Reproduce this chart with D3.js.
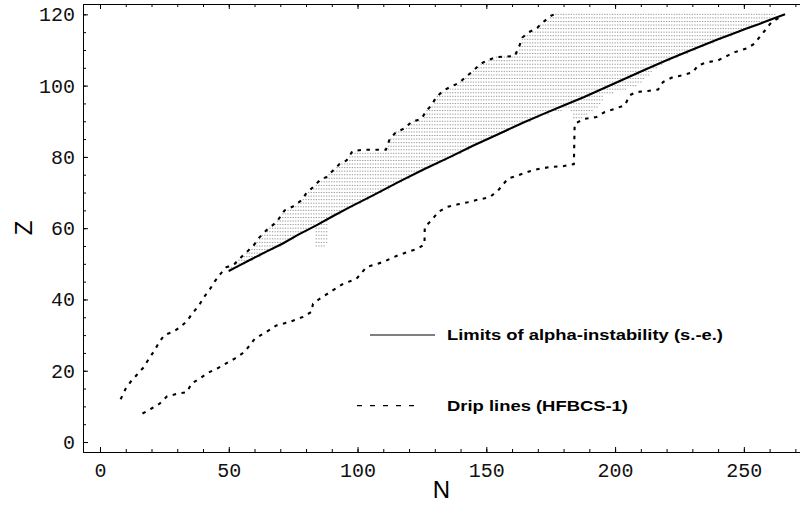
<!DOCTYPE html>
<html>
<head>
<meta charset="utf-8">
<script src="https://cdn.jsdelivr.net/npm/d3@7"></script>
<style>
  html, body { margin: 0; padding: 0; background: #fff; }
  svg { display: block; }
</style>
</head>
<body>
<div id="chart"></div>
<script>
// proton drip line (upper dashed), [N, Z]
const protonDrip = [
  [8,12],[10,15],[12,17],[14.5,19],[17,21],[19,23.4],[21,25.5],[23,28],[25,30],
  [28.6,31],[31.3,32.3],[33.8,34],[36,36.2],[38.5,38.4],[40.4,40.7],[42.6,42.8],
  [44.5,45],[46.8,47.2],[49,49],[52.3,50],[55,52],[57.7,53.8],[60,55.5],[62,57.5],
  [64.6,59.4],[68.5,61.7],[71.7,65],[74.7,66],[78.2,67.8],[80,69.7],[82.7,71.5],
  [85.3,73.4],[88,74.4],[90.5,76.2],[93,78],[95.7,79],[98,81.6],[102,82],[111,82],
  [112.5,85],[115,87],[118.3,88],[120.9,89.8],[124.8,90.7],[126.8,93],[128.7,94.5],
  [130.6,96.8],[133.5,98.7],[136.5,99.8],[139.5,100.8],[142.3,102.6],[145,104.2],
  [147.5,106],[150.7,107.2],[154,108],[161,108.3],[162.5,110.5],[164,113.5],
  [166.5,115],[169.5,116],[172,117.8],[175.3,119.7],[177,120]
]

// neutron drip line (lower dashed), [N, Z]
const neutronDrip = [
  [16.5,8],[20,9.4],[23.2,10.8],[26,12.8],[30.3,13.6],[33.8,14],[35.5,16.4],
  [38.7,17.8],[41.9,19.4],[45.4,20.6],[48.8,22],[52.3,23.4],[56.2,25.3],[60.1,29],
  [64.6,30.9],[68.5,32.7],[73.7,33.7],[78.8,35.1],[82.1,36.5],[82.7,38.8],[85.3,40.2],
  [90.5,42.6],[94.4,44.4],[99.6,45.8],[103.5,49.1],[109.9,50.5],[115.7,52.4],
  [119,53.2],[123.5,54.3],[126,55.5],[126.1,60.3],[128.7,62.2],[131.3,64.5],
  [134.5,65.9],[139,66.7],[142.9,67.3],[146.8,68],[151.3,68.7],[154.6,70.6],
  [158.4,73.9],[162.3,74.8],[166.9,76],[170.8,76.7],[175.3,77.2],[179.8,77.4],
  [184,78],[184.3,89.3],[188.2,90.7],[192.8,91.2],[196,92.6],[199.9,93.5],
  [203.8,94.5],[205.7,97.3],[208.3,98.2],[212.8,98.5],[216.7,98.9],[218.6,101],
  [222.5,102.4],[226.4,102.9],[230.3,103.8],[232.2,105.7],[236.1,106.6],[240,107.1],
  [243.9,108.5],[246.5,109.4],[251,110.4],[254.2,111.8],[256.1,113.6],[258.8,116],
  [260.7,117.8],[264,119.2],[265,120]
]

// limits of alpha-instability (solid), [N, Z]
const alphaLimit = [
  [50,48],[54,49.5],[58,51],[64,53.2],[71,55.7],[77,58.2],[84,60.8],[90,63.2],
  [97,65.9],[106,69.2],[116,73],[126,76.6],[136,80],[145,83.2],[155,86.5],
  [164,89.5],[172,92],[180,94.4],[188,96.8],[196,99.4],[204,102],[212,104.6],
  [220,107.1],[227,109.2],[233,111],[240,113],[246,114.6],[251,116],[256,117.3],
  [261,118.7],[266,120]
]

// lower edge of the stippled (alpha-unstable) region, right to left
const stippleLower = [
  [263,120],[256,117],[246,114.2],[233,110.5],[220,106.5],[214,103.5],[209,100],
  [202,98.5],[196,97],[193,93.5],[188,91],[184,91],[182,93.5],[172,91.5],
  [164,89],[155,86],[145,82.7],[136,79.5],[126,76.1],[116,72.5],[106,68.7],
  [97,65.4],[89,62.3],[88,55],[84,55],[83.5,60.2],[77,57.7],[71,55.2],[64,52.7],
  [58,50.5],[50,47.8]
]

const xTicksMajor = [0, 50, 100, 150, 200, 250]
const yTicksMajor = [0, 20, 40, 60, 80, 100, 120]

const legendItems = [
  { label: "Limits of alpha-instability (s.-e.)", dash: null, width: 276 },
  { label: "Drip lines (HFBCS-1)", dash: "5,8", width: 181 }
]

const gc = {
  width: 800,
  height: 507,
  margin: { top: 4, right: 0, bottom: 55, left: 83 },
  tick: { major: 5, minor: 3, font: "'Liberation Mono', 'DejaVu Sans Mono', monospace", size: '20px' },
  line: { width: 2.1, dash: "3.5,5.5" },
  dot: { color: "#9a9a9a" }
}

const svg = d3.select("#chart").append("svg")
  .attr("width", gc.width)
  .attr("height", gc.height)

const x = d3.scaleLinear()
  .domain([-6.6, 271.8])
  .range([gc.margin.left, gc.width - gc.margin.right])

const y = d3.scaleLinear()
  .domain([-2.8, 122.9])
  .range([gc.height - gc.margin.bottom, gc.margin.top])

const line = d3.line().x(d => x(d[0])).y(d => y(d[1]))

// stippled region: one dot per (N, Z) nucleus inside the region
const region = protonDrip.filter(d => d[0] >= 49).concat([[177,120.2]]).concat(stippleLower)
const dots = []
for (let z = 48; z <= 120; z++) {
  for (let n = 48; n <= 266; n++) {
    if (d3.polygonContains(region, [n, z])) dots.push([n, z])
  }
}
svg.append("g")
  .selectAll("rect")
  .data(dots)
  .join("rect")
  .attr("x", d => x(d[0]) - 0.65)
  .attr("y", d => y(d[1]) - 0.5)
  .attr("width", 1.3)
  .attr("height", 1)
  .style("fill", gc.dot.color)

function drawCurve(parent, data, dash) {
  return parent.append("path")
    .datum(data)
    .attr("d", line)
    .style("fill", "none")
    .style("stroke", "#000")
    .style("stroke-width", gc.line.width)
    .style("stroke-dasharray", dash)
}

drawCurve(svg, protonDrip, gc.line.dash)
drawCurve(svg, neutronDrip, gc.line.dash)
drawCurve(svg, alphaLimit, null)

// axes: minor ticks, then major ticks with labels
function styleAxis(g) {
  g.selectAll("path, line").style("stroke", "#000").style("stroke-width", 1)
  g.selectAll("text")
    .style("font-family", gc.tick.font)
    .style("font-size", gc.tick.size)
    .style("fill", "#111")
}

const xMinor = d3.range(0, 271, 10)
const yMinor = d3.range(0, 121, 5)
const yBottom = gc.height - gc.margin.bottom

svg.append("g")
  .attr("transform", `translate(0,${yBottom})`)
  .call(d3.axisBottom(x).tickValues(xMinor).tickSizeInner(-gc.tick.minor).tickSizeOuter(0).tickFormat(""))
  .call(styleAxis)
svg.append("g")
  .attr("transform", `translate(0,${yBottom})`)
  .call(d3.axisBottom(x).tickValues(xTicksMajor).tickSizeInner(-gc.tick.major).tickSizeOuter(0).tickPadding(11))
  .call(styleAxis)

svg.append("g")
  .attr("transform", `translate(0,${gc.margin.top})`)
  .call(d3.axisTop(x).tickValues(xMinor).tickSizeInner(-gc.tick.minor).tickSizeOuter(0).tickFormat(""))
  .call(styleAxis)
svg.append("g")
  .attr("transform", `translate(0,${gc.margin.top})`)
  .call(d3.axisTop(x).tickValues(xTicksMajor).tickSizeInner(-gc.tick.major).tickSizeOuter(0).tickFormat(""))
  .call(styleAxis)

svg.append("g")
  .attr("transform", `translate(${gc.margin.left},0)`)
  .call(d3.axisLeft(y).tickValues(yMinor).tickSizeInner(-gc.tick.minor).tickSizeOuter(0).tickFormat(""))
  .call(styleAxis)
svg.append("g")
  .attr("transform", `translate(${gc.margin.left},0)`)
  .call(d3.axisLeft(y).tickValues(yTicksMajor).tickSizeInner(-gc.tick.major).tickSizeOuter(0).tickPadding(8))
  .call(styleAxis)

// axis titles
svg.append("text")
  .attr("x", (gc.margin.left + gc.width) / 2)
  .attr("y", 498)
  .attr("text-anchor", "middle")
  .style("font-family", "'Liberation Sans', Arial, sans-serif")
  .style("font-size", "24px")
  .text("N")

svg.append("text")
  .attr("transform", `translate(32,${(gc.margin.top + yBottom) / 2}) rotate(-90)`)
  .attr("text-anchor", "middle")
  .style("font-family", "'Liberation Sans', Arial, sans-serif")
  .style("font-size", "24px")
  .text("Z")

// legend
const legendPos = [
  { x1: 370, x2: 435, y: 335, tx: 447, ty: 340 },
  { x1: 357, x2: 417, y: 405.7, tx: 447, ty: 411 }
]
legendItems.forEach((item, i) => {
  const p = legendPos[i]
  svg.append("line")
    .attr("x1", p.x1).attr("x2", p.x2)
    .attr("y1", p.y).attr("y2", p.y)
    .style("stroke", "#000")
    .style("stroke-width", 1.2)
    .style("stroke-dasharray", item.dash)
  svg.append("text")
    .attr("x", p.tx)
    .attr("y", p.ty)
    .attr("textLength", item.width)
    .attr("lengthAdjust", "spacingAndGlyphs")
    .style("font-family", "'Liberation Sans', Arial, sans-serif")
    .style("font-weight", "bold")
    .style("font-size", "15.5px")
    .text(item.label)
})
</script>
</body>
</html>
